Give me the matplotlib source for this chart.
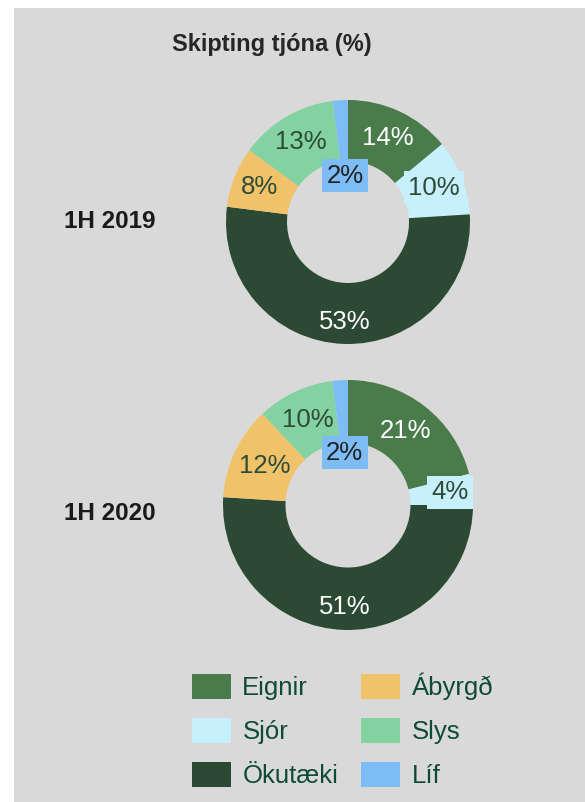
import matplotlib.pyplot as plt
from matplotlib.patches import Rectangle
import numpy as np

plt.rcParams['font.family'] = ['Liberation Sans', 'DejaVu Sans']

categories = ['Eignir', 'Sjór', 'Ökutæki', 'Ábyrgð', 'Slys', 'Líf']
share_2019 = [14, 10, 53, 8, 13, 2]
share_2020 = [21, 4, 51, 12, 10, 2]
period_labels = ['1H 2019', '1H 2020']

colors = ['#4a7b4b', '#c8effc', '#2c4a33', '#f0c36a', '#84d2a2', '#7dbcf4']
label_colors = ['white', '#2d4b36', 'white', '#2d4b36', '#2d4b36', '#222222']
label_boxes = [False, True, False, False, False, True]

W, H = 585, 802
fig = plt.figure(figsize=(W / 100, H / 100), dpi=100, facecolor='white')
fig.patches.append(Rectangle((14 / W, 0), 1 - 14 / W, 1 - 8 / H, transform=fig.transFigure,
                             facecolor='#d9d9d9', edgecolor='none', zorder=-10))

fig.text(272 / W, 1 - 45 / H, 'Skipting tjóna (%)', ha='center', va='center',
         fontsize=17, fontweight='bold', color='#262626')


def draw_donut(values, cx, cy, r, label_r, period, period_y):
    ax = fig.add_axes([(cx - r) / W, 1 - (cy + r) / H, 2 * r / W, 2 * r / H])
    wedges, _ = ax.pie(values, colors=colors, startangle=90, counterclock=False, radius=1,
                       wedgeprops=dict(width=0.5, edgecolor='none'))
    ax.set_xlim(-1, 1)
    ax.set_ylim(-1, 1)
    ax.set_aspect('equal')
    ax.axis('off')
    for i, w in enumerate(wedges):
        ang = np.deg2rad((w.theta1 + w.theta2) / 2)
        rr = label_r[i]
        kw = {}
        if label_boxes[i]:
            kw['bbox'] = dict(boxstyle='square,pad=0.17', facecolor=colors[i], edgecolor='none')
        ax.text(rr * np.cos(ang), rr * np.sin(ang), f'{values[i]}%', ha='center', va='center',
                fontsize=18.5, color=label_colors[i], **kw)
    fig.text(110 / W, 1 - period_y / H, period, ha='center', va='center',
             fontsize=17.5, fontweight='bold', color='#1a1a1a')


draw_donut(share_2019, 348, 222, 122, [0.76, 0.76, 0.82, 0.78, 0.76, 0.38], period_labels[0], 221)
draw_donut(share_2020, 348, 505, 125, [0.75, 0.82, 0.82, 0.74, 0.75, 0.42], period_labels[1], 513)

handles = [Rectangle((0, 0), 1, 1, facecolor=c, edgecolor='none') for c in colors]
leg = fig.legend(handles, categories, ncol=2, loc='upper left',
                 bbox_to_anchor=(192 / W, 1 - 673 / H), frameon=False, fontsize=18.5,
                 handlelength=1.5, handleheight=1.14, handletextpad=0.46,
                 columnspacing=0.9, labelspacing=0.68, borderpad=0, borderaxespad=0)
for t in leg.get_texts():
    t.set_color('#0f4a36')

fig.savefig('out.png', dpi=100, facecolor=fig.get_facecolor())
